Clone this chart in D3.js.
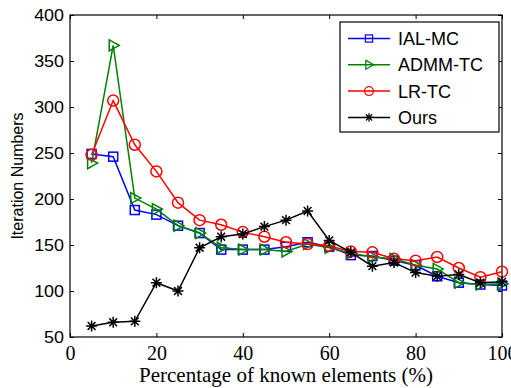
<!DOCTYPE html>
<html>
<head>
<meta charset="utf-8">
<script src="https://cdn.jsdelivr.net/npm/d3@7"></script>
<style>
  body { margin: 0; background: #fff; }
  svg { display: block; }
</style>
</head>
<body>
<div id="chart"></div>
<script>
const percents = [5, 10, 15, 20, 25, 30, 35, 40, 45, 50, 55, 60, 65, 70, 75, 80, 85, 90, 95, 100];
const ialMc = [249, 246, 188, 183, 171, 163, 145, 145, 145, 148, 153, 148, 139, 138, 133, 128, 116, 109, 107, 106];
const admmTc = [239, 367, 201, 189, 171, 163, 147, 145, 145, 143, 151, 147, 141, 137, 135, 128, 124, 109, 107, 108];
const lrTc = [248, 307, 259, 230, 196, 177, 172, 164, 159, 153, 151, 149, 143, 142, 135, 133, 137, 125, 115, 121];
const ours = [62, 66, 67, 109, 100, 147, 159, 162, 170, 177, 187, 155, 142, 127, 131, 120, 116, 118, 109, 110];
const xTicks = [0, 20, 40, 60, 80, 100];
const yTicks = [50, 100, 150, 200, 250, 300, 350, 400];

const series = [
  { name: 'IAL-MC', values: ialMc, color: '#0000ff', marker: 'square' },
  { name: 'ADMM-TC', values: admmTc, color: '#008000', marker: 'triangle' },
  { name: 'LR-TC', values: lrTc, color: '#ff0000', marker: 'circle' },
  { name: 'Ours', values: ours, color: '#000000', marker: 'star' }
];

const width = 511, height = 388;
const margin = { top: 15, right: 9, bottom: 51, left: 70 };
const w = width - margin.left - margin.right;
const h = height - margin.top - margin.bottom;
const sans = 'Liberation Sans, Arial, sans-serif';
const serif = 'Liberation Serif, Times New Roman, serif';

const svg = d3.select('#chart').append('svg')
  .attr('width', width)
  .attr('height', height);

const g = svg.append('g')
  .attr('transform', `translate(${margin.left},${margin.top})`);

const x = d3.scaleLinear().domain([0, 100]).range([0, w]);
const y = d3.scaleLinear().domain([50, 400]).range([h, 0]);

// inner ticks on all four sides
const tickLen = 4;
g.append('g').attr('transform', `translate(0,${h})`)
  .call(d3.axisBottom(x).tickValues(xTicks).tickSizeInner(-tickLen).tickSizeOuter(0).tickPadding(8))
  .call(a => a.selectAll('text')
    .attr('dy', null).attr('y', 23)
    .attr('font-family', serif).attr('font-size', 20).attr('fill', '#000'));
g.append('g')
  .call(d3.axisTop(x).tickValues(xTicks).tickSizeInner(-tickLen).tickSizeOuter(0).tickFormat(''));
g.append('g')
  .call(d3.axisLeft(y).tickValues(yTicks).tickSizeInner(-tickLen).tickSizeOuter(0))
  .call(a => a.selectAll('text')
    .attr('x', 0)
    .attr('transform', 'translate(-6,0) scale(1.12,1)')
    .attr('font-family', sans).attr('font-size', 16).attr('fill', '#000'));
g.append('g').attr('transform', `translate(${w},0)`)
  .call(d3.axisRight(y).tickValues(yTicks).tickSizeInner(-tickLen).tickSizeOuter(0).tickFormat(''));

g.selectAll('.domain').remove();
g.selectAll('.tick line').attr('stroke', '#000');

g.append('rect')
  .attr('width', w).attr('height', h)
  .attr('fill', 'none').attr('stroke', '#000').attr('stroke-width', 1.2);

const line = d3.line()
  .x((d, i) => x(percents[i]))
  .y(d => y(d));

function drawMarker(sel, type, color) {
  if (type === 'square') {
    sel.append('rect').attr('x', -4.5).attr('y', -4.5).attr('width', 9).attr('height', 9)
      .attr('fill', 'none').attr('stroke', color).attr('stroke-width', 1.5);
  } else if (type === 'triangle') {
    sel.append('path').attr('d', 'M-4,-5.5L6,0L-4,5.5Z')
      .attr('fill', 'none').attr('stroke', color).attr('stroke-width', 1.5);
  } else if (type === 'circle') {
    sel.append('circle').attr('r', 5.5)
      .attr('fill', 'none').attr('stroke', color).attr('stroke-width', 1.5);
  } else {
    const r = 5.5;
    let d = '';
    for (let k = 0; k < 4; k++) {
      const a = k * Math.PI / 4;
      d += `M${-r * Math.cos(a)},${-r * Math.sin(a)}L${r * Math.cos(a)},${r * Math.sin(a)}`;
    }
    sel.append('path').attr('d', d).attr('stroke', color).attr('stroke-width', 1.5);
  }
}

series.forEach(s => {
  g.append('path')
    .datum(s.values)
    .attr('d', line)
    .attr('fill', 'none')
    .attr('stroke', s.color)
    .attr('stroke-width', 1.5);
  g.selectAll(null)
    .data(s.values)
    .enter()
    .append('g')
    .attr('transform', (d, i) => `translate(${x(percents[i])},${y(d)})`)
    .each(function () { drawMarker(d3.select(this), s.marker, s.color); });
});

// legend
const legend = g.append('g').attr('transform', `translate(${340 - margin.left},${22 - margin.top})`);
legend.append('rect')
  .attr('width', 159).attr('height', 110)
  .attr('fill', '#fff').attr('stroke', '#000').attr('stroke-width', 1.2);
const item = legend.selectAll('.item')
  .data(series)
  .enter()
  .append('g')
  .attr('transform', (d, i) => `translate(0,${16.5 + i * 26.3})`);
item.append('line')
  .attr('x1', 8).attr('x2', 50)
  .attr('stroke', d => d.color).attr('stroke-width', 1.5);
item.each(function (d) {
  const m = d3.select(this).append('g').attr('transform', 'translate(29,0) scale(0.8)');
  drawMarker(m, d.marker, d.color);
});
item.append('text')
  .attr('x', 58).attr('dy', '0.36em')
  .attr('font-family', sans)
  .attr('font-size', 18)
  .text(d => d.name);

// axis labels
svg.append('text')
  .attr('x', margin.left + w / 2).attr('y', 382)
  .attr('text-anchor', 'middle')
  .attr('font-family', serif)
  .attr('font-size', 21)
  .text('Percentage of known elements (%)');
svg.append('text')
  .attr('transform', `translate(23,${margin.top + h / 2}) rotate(-90)`)
  .attr('text-anchor', 'middle')
  .attr('font-family', sans)
  .attr('font-size', 16)
  .text('Iteration Numbers');
</script>
</body>
</html>
